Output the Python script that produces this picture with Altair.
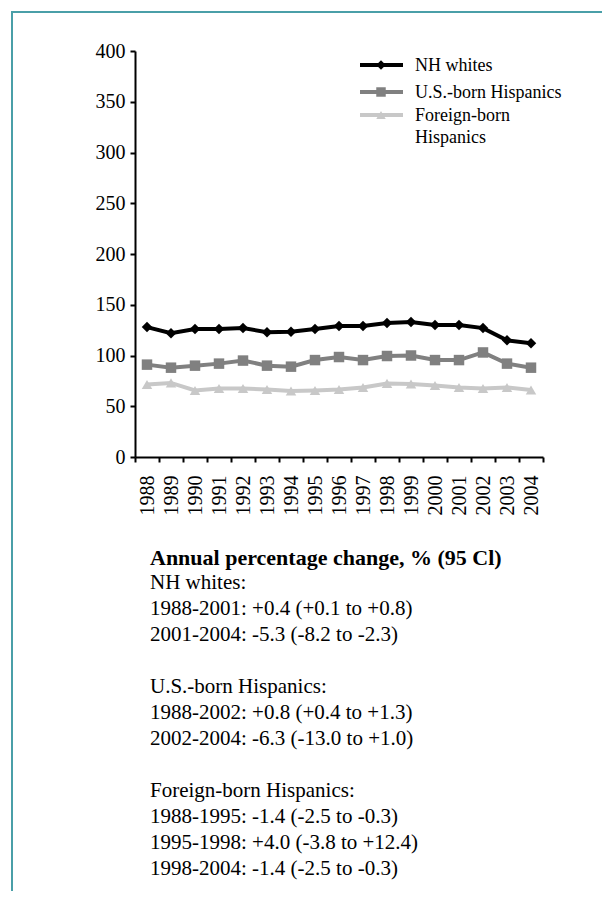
import altair as alt
import pandas as pd

years = ["1988", "1989", "1990", "1991", "1992", "1993", "1994", "1995", "1996",
         "1997", "1998", "1999", "2000", "2001", "2002", "2003", "2004"]
nh_whites = [128, 122, 126, 126, 127, 123, 123.5, 126, 129, 129, 132, 133, 130, 130, 127, 115, 112]
us_born = [91, 88, 90, 92, 95, 90, 89, 95.5, 98.5, 95.5, 99.5, 100, 95.5, 95.5, 103, 92, 88]
foreign_born = [71.5, 73, 65.5, 67.5, 67.5, 66.5, 65, 65.5, 66.5, 68.5, 72.5, 72, 70.5, 68.5, 67.5, 68.5, 66]

series_names = ["NH whites", "U.S.-born Hispanics", "Foreign-born Hispanics"]
legend_labels = ["NH whites", "U.S.-born Hispanics", "Foreign-born\nHispanics"]
series_colors = ["#000000", "#808080", "#c8c8c8"]
series_shapes = ["diamond", "square", "triangle-up"]
y_ticks = [0, 50, 100, 150, 200, 250, 300, 350, 400]

note_title = "Annual percentage change, % (95 Cl)"
note_groups = [
    ["NH whites:",
     "1988-2001: +0.4 (+0.1 to +0.8)",
     "2001-2004: -5.3 (-8.2 to -2.3)"],
    ["U.S.-born Hispanics:",
     "1988-2002: +0.8 (+0.4 to +1.3)",
     "2002-2004: -6.3 (-13.0 to +1.0)"],
    ["Foreign-born Hispanics:",
     "1988-1995: -1.4 (-2.5 to -0.3)",
     "1995-1998: +4.0 (-3.8 to +12.4)",
     "1998-2004: -1.4 (-2.5 to -0.3)"],
]

rows = []
for name, vals in zip(series_names, [nh_whites, us_born, foreign_born]):
    for yr, v in zip(years, vals):
        rows.append({"year": yr, "value": v, "series": name})
df = pd.DataFrame(rows)

FONT = "Liberation Serif"

color_scale = alt.Scale(domain=series_names, range=series_colors)
shape_scale = alt.Scale(domain=series_names, range=series_shapes)

x_enc = alt.X(
    "year:O",
    sort=years,
    bandPosition=0.5,
    scale=alt.Scale(type="band", paddingInner=0, paddingOuter=0),
    axis=alt.Axis(
        title=None, labelAngle=-90, tickBand="extent", grid=False,
        labelFont=FONT, labelFontSize=20, labelColor="black",
        domainColor="black", domainWidth=2, tickColor="black", tickWidth=2,
        tickSize=5, labelPadding=13,
    ),
)
y_enc = alt.Y(
    "value:Q",
    scale=alt.Scale(domain=[0, 400], nice=False),
    axis=alt.Axis(
        title=None, values=y_ticks, grid=False,
        labelFont=FONT, labelFontSize=20, labelColor="black",
        domainColor="black", domainWidth=2, tickColor="black", tickWidth=2,
        tickSize=5, labelPadding=5,
    ),
)

base = alt.Chart(df)
lines = base.mark_line(strokeWidth=4).encode(
    x=x_enc, y=y_enc,
    color=alt.Color("series:N", scale=color_scale, legend=None),
    detail="series:N",
)
points = base.mark_point(filled=True, opacity=1, size=110).encode(
    x=x_enc, y=y_enc,
    color=alt.Color("series:N", scale=color_scale, legend=None),
    shape=alt.Shape("series:N", scale=shape_scale, legend=None),
)

# manual legend
leg_df = pd.DataFrame({"series": series_names, "label": legend_labels})
leg_rows_y = [14, 41, 64]
legend_layers = []
for name, ly in zip(series_names, leg_rows_y):
    lb = alt.Chart(leg_df).transform_filter(alt.datum.series == name)
    legend_layers.append(
        lb.mark_rule(strokeWidth=4).encode(
            x=alt.value(225), x2=alt.value(268), y=alt.value(ly),
            color=alt.Color("series:N", scale=color_scale, legend=None),
        )
    )
    legend_layers.append(
        lb.mark_point(filled=True, opacity=1, size=90).encode(
            x=alt.value(246), y=alt.value(ly),
            color=alt.Color("series:N", scale=color_scale, legend=None),
            shape=alt.Shape("series:N", scale=shape_scale, legend=None),
        )
    )
    legend_layers.append(
        lb.mark_text(font=FONT, fontSize=18, align="left", baseline="top",
                     lineBreak="\n", lineHeight=22, color="black").encode(
            x=alt.value(280), y=alt.value(ly - 8.2), text="label:N",
        )
    )

one = alt.Chart(pd.DataFrame({"k": [0]}))
title_text = one.mark_text(font=FONT, fontSize=22, fontWeight="bold", align="left",
                           baseline="middle", color="black").encode(
    x=alt.value(15), y=alt.value(507), text=alt.value(note_title)
)
group_tops = [521, 625, 729]
body_layers = []
for grp, gy in zip(note_groups, group_tops):
    body_layers.append(
        one.mark_text(font=FONT, fontSize=21, align="left", baseline="top",
                      lineBreak="\n", lineHeight=26, color="black").encode(
            x=alt.value(15), y=alt.value(gy), text=alt.value("\n".join(grp))
        )
    )

border_top = one.mark_rule(color="#4a9fa8", strokeWidth=2).encode(
    x=alt.value(-123), x2=alt.value(470), y=alt.value(-39)
)
border_left = one.mark_rule(color="#4a9fa8", strokeWidth=2).encode(
    x=alt.value(-123), y=alt.value(-40), y2=alt.value(840)
)

chart = alt.layer(
    border_top, border_left, lines, points, *legend_layers, title_text, *body_layers
).properties(
    width=408, height=406,
    padding={"left": 127, "top": 43, "right": 59, "bottom": 436},
    autosize=alt.AutoSizeParams(type="none"),
    background="white",
).configure_view(stroke=None).configure_axis(labelFont=FONT)

chart.save("out.html", embed_options={"renderer": "svg", "actions": False})
